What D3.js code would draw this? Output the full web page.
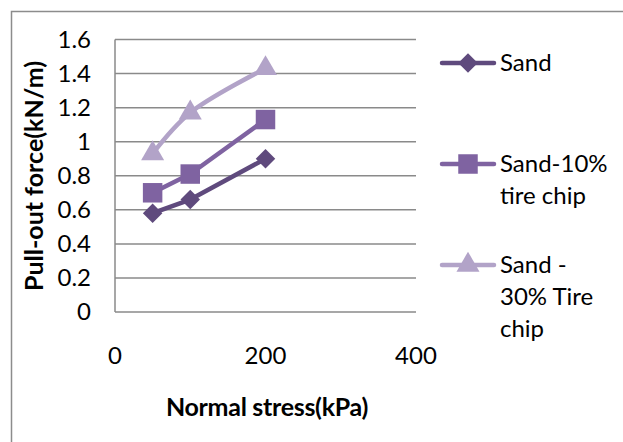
<!DOCTYPE html>
<html>
<head>
<meta charset="utf-8">
<script src="https://cdn.jsdelivr.net/npm/d3@7"></script>
<style>
  body { margin: 0; background: #fff; }
  text { font-family: Lato, "Open Sans", sans-serif; fill: #000; }
</style>
</head>
<body>
<div id="container"></div>
<script>
var stress = [50, 100, 200]
var sand = [0.58, 0.66, 0.9]
var sand10 = [0.70, 0.81, 1.13]
var sand30 = [0.93, 1.17, 1.43]
var seriesNames = [["Sand"], ["Sand-10%", "tire chip"], ["Sand -", "30% Tire", "chip"]]
var xTicks = [0, 200, 400]
var yTicks = [0, 0.2, 0.4, 0.6, 0.8, 1, 1.2, 1.4, 1.6]

var width = 623
var height = 442
var svg = d3.select("#container")
  .append("svg")
  .attr("width", width)
  .attr("height", height)

// outer chart frame (only top and left visible)
svg.append("path")
  .attr("d", "M11.5," + height + "V11.5H" + width)
  .attr("fill", "none")
  .attr("stroke", "#8c8c8c")
  .attr("stroke-width", 1.5)

var x = d3.scaleLinear().domain([0, 400]).range([115, 416])
var y = d3.scaleLinear().domain([0, 1.6]).range([312, 39.5])

// gridlines
svg.append("g")
  .selectAll("line")
  .data(yTicks)
  .enter()
  .append("line")
  .attr("x1", x(0))
  .attr("x2", x(400))
  .attr("y1", d => y(d))
  .attr("y2", d => y(d))
  .attr("stroke", "#8a8a8a")
  .attr("stroke-width", 1.5)

svg.append("line")
  .attr("x1", x(0)).attr("x2", x(0))
  .attr("y1", y(0)).attr("y2", y(1.6))
  .attr("stroke", "#8a8a8a")
  .attr("stroke-width", 1.5)

// tick labels
svg.append("g")
  .selectAll("text")
  .data(yTicks)
  .enter()
  .append("text")
  .attr("x", 91)
  .attr("y", d => y(d))
  .attr("dy", "0.35em")
  .attr("text-anchor", "end")
  .style("font-size", "24px")
  .text(d => d3.format("~g")(d))

svg.append("g")
  .selectAll("text")
  .data(xTicks)
  .enter()
  .append("text")
  .attr("x", d => x(d))
  .attr("y", 356)
  .attr("dy", "0.35em")
  .attr("text-anchor", "middle")
  .style("font-size", "24px")
  .text(d => d)

// axis titles
svg.append("text")
  .attr("x", 267)
  .attr("y", 407)
  .attr("dy", "0.35em")
  .attr("text-anchor", "middle")
  .style("font-size", "25px")
  .style("font-weight", "bold")
  .style("letter-spacing", "-0.3px")
  .text("Normal stress(kPa)")

svg.append("text")
  .attr("transform", "translate(34,176) rotate(-90)")
  .attr("dy", "0.35em")
  .attr("text-anchor", "middle")
  .style("font-size", "25px")
  .style("font-weight", "bold")
  .text("Pull-out force(kN/m)")

var series = [
  { values: sand, color: "#5f4a7d", shape: "diamond", curve: d3.curveLinear },
  { values: sand10, color: "#7f63a1", shape: "square", curve: d3.curveLinear },
  { values: sand30, color: "#b2a3c8", shape: "triangle", curve: d3.curveCatmullRom }
]

var symbolFor = function(shape) {
  if (shape == "diamond") return d3.symbol().type(d3.symbolSquare).size(190)
  if (shape == "square") return d3.symbol().type(d3.symbolSquare).size(380)
  return d3.symbol().type(d3.symbolTriangle).size(230)
}

series.forEach(function(s) {
  var pts = stress.map((v, i) => [x(v), y(s.values[i])])
  svg.append("path")
    .attr("d", d3.line().curve(s.curve)(pts))
    .attr("fill", "none")
    .attr("stroke", s.color)
    .attr("stroke-width", 4.5)
    .attr("stroke-linejoin", "round")

  svg.append("g")
    .selectAll("path")
    .data(pts)
    .enter()
    .append("path")
    .attr("d", symbolFor(s.shape))
    .attr("transform", d => "translate(" + d[0] + "," + d[1] + ")" + (s.shape == "diamond" ? " rotate(45)" : ""))
    .attr("fill", s.color)
})

// legend
var legendY = [63, 164, 265]
series.forEach(function(s, i) {
  var g = svg.append("g").attr("transform", "translate(0," + legendY[i] + ")")
  g.append("line")
    .attr("x1", 442).attr("x2", 494)
    .attr("stroke", s.color)
    .attr("stroke-width", 4.5)
    .attr("stroke-linecap", "round")
  g.append("path")
    .attr("d", symbolFor(s.shape))
    .attr("transform", "translate(468,0)" + (s.shape == "diamond" ? " rotate(45)" : ""))
    .attr("fill", s.color)
  g.selectAll("text")
    .data(seriesNames[i])
    .enter()
    .append("text")
    .attr("x", 500)
    .attr("y", (d, j) => j * 32)
    .attr("dy", "0.35em")
    .style("font-size", "24px")
    .text(d => d)
})
</script>
</body>
</html>
